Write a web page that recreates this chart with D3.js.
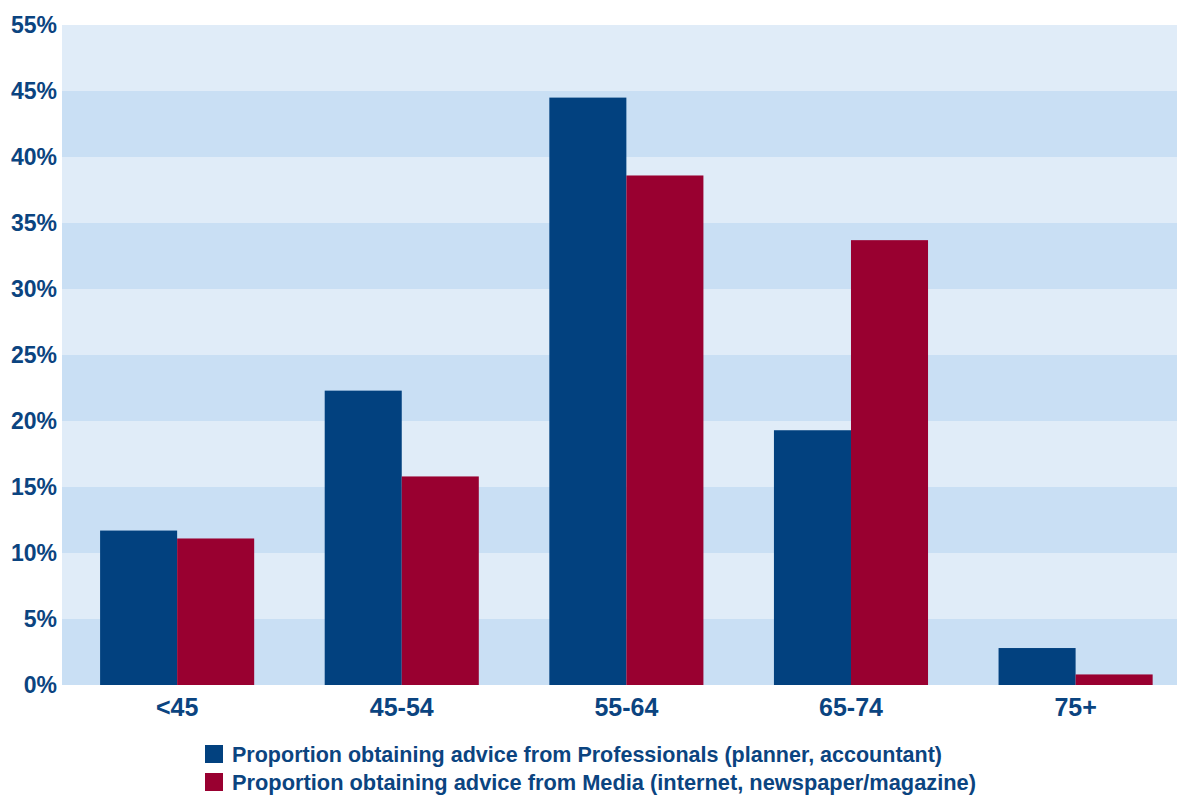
<!DOCTYPE html>
<html>
<head>
<meta charset="utf-8">
<script src="https://cdn.jsdelivr.net/npm/d3@7"></script>
<style>
  body { margin: 0; background: #fff; }
  svg { display: block; }
</style>
</head>
<body>
<div id="chart"></div>
<script>
const ageGroups = ['<45', '45-54', '55-64', '65-74', '75+']
const professionals = [11.7, 22.3, 44.5, 19.3, 2.8]
const media = [11.1, 15.8, 38.6, 33.7, 0.8]
const seriesNames = [
  'Proportion obtaining advice from Professionals (planner, accountant)',
  'Proportion obtaining advice from Media (internet, newspaper/magazine)'
]
const tickValues = [0, 5, 10, 15, 20, 25, 30, 35, 40, 45, 50]
const tickLabels = ['0%', '5%', '10%', '15%', '20%', '25%', '30%', '35%', '40%', '45%', '55%']

const width = 1177
const height = 796
const margin = { top: 25, right: 0, bottom: 111, left: 62 }
const colors = ['#02417f', '#990030']
const textColor = '#0b4480'

const svg = d3.select('#chart')
  .append('svg')
  .attr('width', width)
  .attr('height', height)

const x = d3.scaleBand()
  .domain(ageGroups)
  .range([margin.left, width - margin.right])
  .paddingInner(0.314)
  .paddingOuter(0.139)
  .align(0.61)

const xSeries = d3.scaleBand()
  .domain([0, 1])
  .range([0, x.bandwidth()])

const y = d3.scaleLinear()
  .domain([0, 50])
  .range([height - margin.bottom, margin.top])

// background bands
svg.append('g')
  .selectAll('rect')
  .data(tickValues.slice(0, -1))
  .join('rect')
  .attr('x', margin.left)
  .attr('width', width - margin.right - margin.left)
  .attr('y', d => y(d + 5))
  .attr('height', d => y(d) - y(d + 5))
  .attr('fill', (d, i) => i % 2 === 0 ? '#c9dff4' : '#e0ecf8')

// bars
const data = ageGroups.map((g, i) => ({ group: g, values: [professionals[i], media[i]] }))

svg.append('g')
  .selectAll('g')
  .data(data)
  .join('g')
  .attr('transform', d => `translate(${x(d.group)},0)`)
  .selectAll('rect')
  .data(d => d.values.map((v, k) => ({ k, v })))
  .join('rect')
  .attr('x', d => xSeries(d.k))
  .attr('width', xSeries.bandwidth())
  .attr('y', d => y(d.v))
  .attr('height', d => y(0) - y(d.v))
  .attr('fill', d => colors[d.k])

// y axis
const yAxis = d3.axisLeft(y)
  .tickValues(tickValues)
  .tickSize(0)
  .tickPadding(5)
  .tickFormat((d, i) => tickLabels[i])

svg.append('g')
  .attr('class', 'axis y-axis')
  .attr('transform', `translate(${margin.left},0)`)
  .call(yAxis)
  .call(g => g.select('.domain').remove())
  .selectAll('text')
  .attr('fill', textColor)
  .attr('font-family', 'Liberation Sans, Arial, sans-serif')
  .attr('font-weight', 'bold')
  .attr('font-size', 23)

// x axis
const xAxis = d3.axisBottom(x)
  .tickSize(0)
  .tickPadding(13)

svg.append('g')
  .attr('class', 'axis x-axis')
  .attr('transform', `translate(0,${y(0)})`)
  .call(xAxis)
  .call(g => g.select('.domain').remove())
  .selectAll('text')
  .attr('fill', textColor)
  .attr('font-family', 'Liberation Sans, Arial, sans-serif')
  .attr('font-weight', 'bold')
  .attr('font-size', 25)

// legend
const legend = svg.append('g')
  .attr('transform', 'translate(205,745)')

const legendWidths = [710, 744]

const items = legend.selectAll('g')
  .data(seriesNames)
  .join('g')
  .attr('transform', (d, i) => `translate(0,${i * 28})`)

items.append('rect')
  .attr('width', 18)
  .attr('height', 18)
  .attr('fill', (d, i) => colors[i])

items.append('text')
  .attr('x', 27)
  .attr('y', 17)
  .attr('fill', textColor)
  .attr('font-family', 'Liberation Sans Narrow, Liberation Sans, Arial, sans-serif')
  .attr('font-weight', 'bold')
  .attr('font-size', 22)
  .attr('textLength', (d, i) => legendWidths[i])
  .attr('lengthAdjust', 'spacingAndGlyphs')
  .text(d => d)
</script>
</body>
</html>
